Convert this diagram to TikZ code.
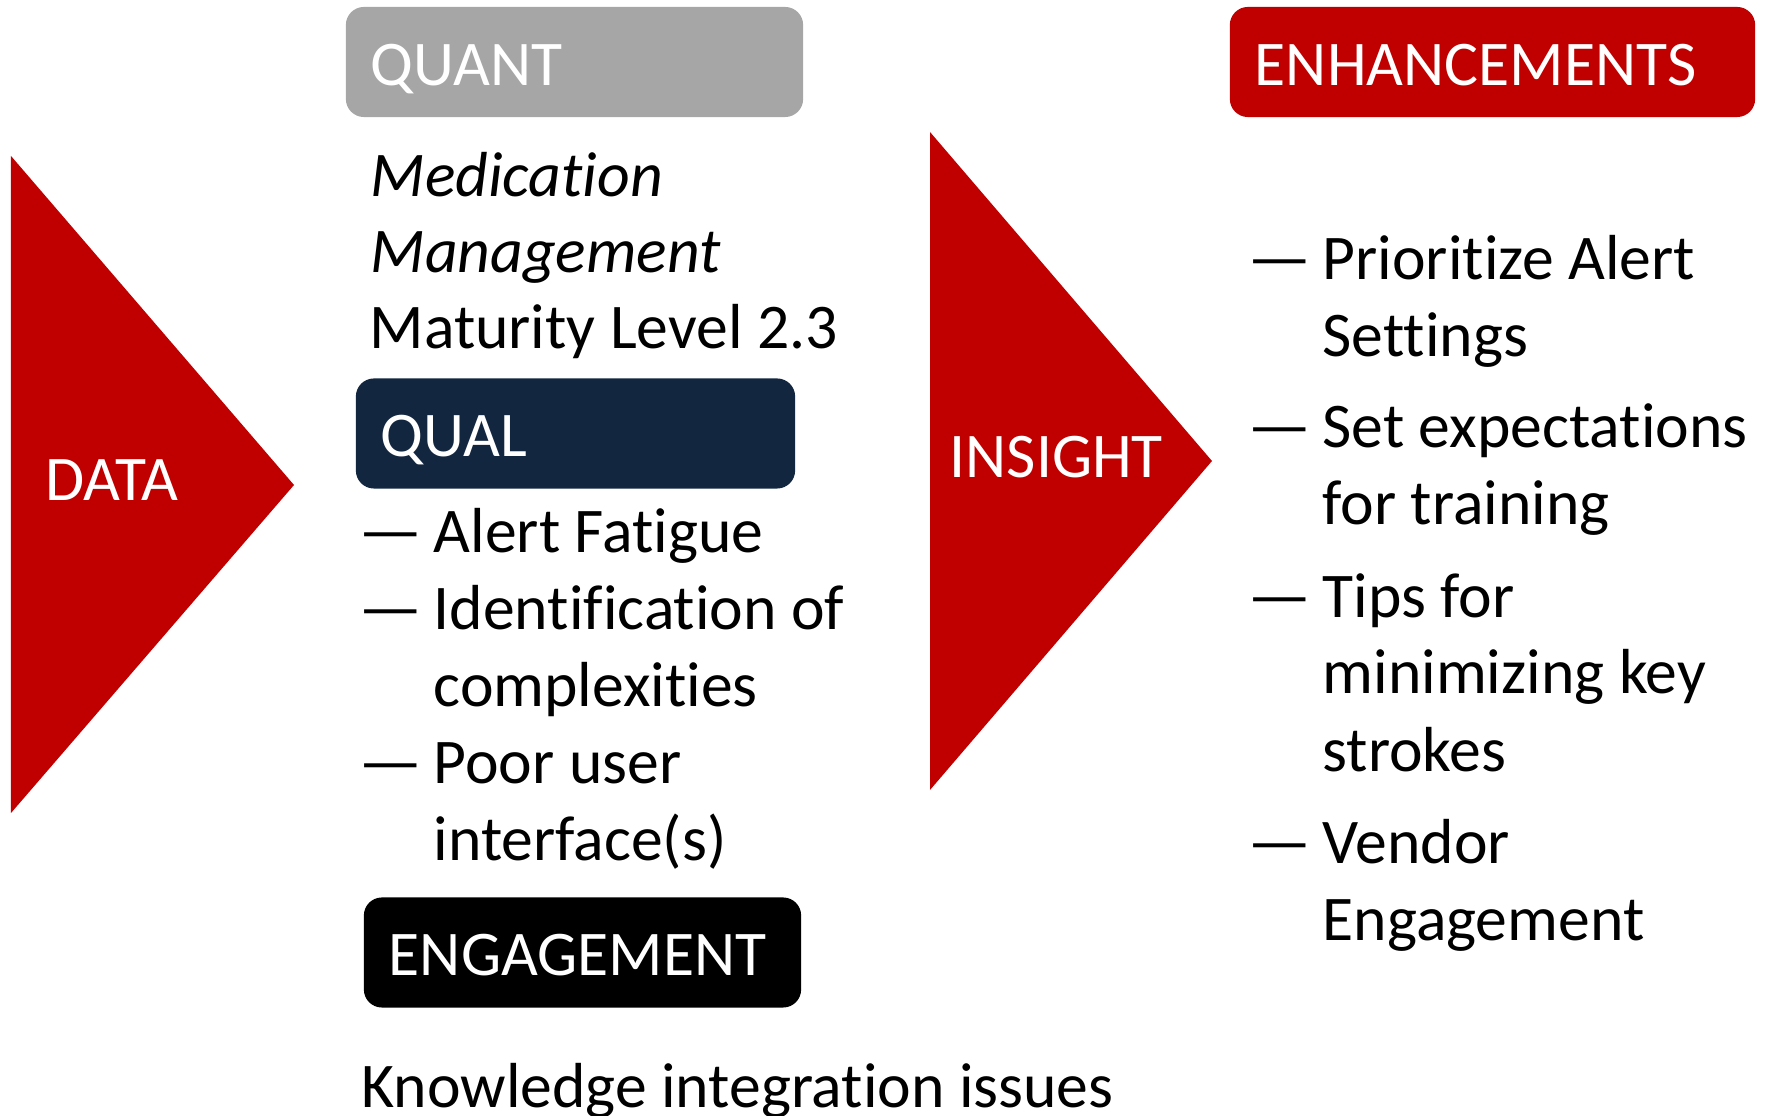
\documentclass[tikz,border=0pt]{standalone}
\usepackage{fontspec}
\setmainfont{Carlito}[RawFeature={-liga;-clig;-calt;-dlig}]
\definecolor{hired}{HTML}{C00000}
\definecolor{quantgray}{HTML}{A6A6A6}
\definecolor{qualnavy}{HTML}{132640}
\newcommand{\bul}{\makebox[0.75cm][l]{\scalebox{1.12}[1]{—}}}

\begin{document}
\begin{tikzpicture}[x=0.01cm,y=-0.01cm,
  every node/.style={font=\fontsize{18.1}{22}\selectfont},
  line/.style={anchor=base west, inner sep=0pt},
  tag/.style={rounded corners=0.18cm, text=white, inner xsep=0.25cm,
    text height=0.46cm, text depth=0pt, minimum height=1.1cm, align=left}]
\useasboundingbox (0,0) rectangle (1771,1116);

% the two big arrows
\fill[hired] (11,156) -- (294,485) -- (11,813) -- cycle;
\fill[hired] (930,132) -- (1212,461) -- (930,790) -- cycle;
\node[line, text=white] (data) at (45,501) {DATA};
\node[line, text=white] (insight) at (949,478) {INSIGHT};

% headers
\node[tag, fill=quantgray, text width=4.07cm] (quant) at (574.5,62) {QUANT};
\node[tag, fill=qualnavy, text width=3.89cm] (qual) at (575.5,433.5) {QUAL};
\node[tag, fill=black, text width=3.87cm] (engage) at (582.5,952.5) {ENGAGEMENT};
\node[tag, fill=hired, text width=4.75cm] (enhance) at (1492.5,62) {ENHANCEMENTS};

% quant
\node[line] (med1) at (370,197) {\textit{Medication}};
\node[line] (med2) at (370,273) {\textit{Management}};
\node[line] (med3) at (369,349) {Maturity Level 2.3};

% qual
\node[line] (q1) at (358,553) {\bul Alert Fatigue};
\node[line] (q2) at (358,630) {\bul Identification of};
\node[line] (q2b) at (433,707) {complexities};
\node[line] (q3) at (358,784) {\bul Poor user};
\node[line] (q3b) at (433,861) {interface(s)};

% engagement
\node[line] (know) at (361,1108) {Knowledge integration issues};

% enhancements
\node[line] (e1) at (1247,280) {\bul Prioritize Alert};
\node[line] (e1b) at (1322,357) {Settings};
\node[line] (e2) at (1247,448) {\bul Set expectations};
\node[line] (e2b) at (1322,525) {for training};
\node[line] (e3) at (1247,618) {\bul Tips for};
\node[line] (e3b) at (1322,694) {minimizing key};
\node[line] (e3c) at (1322,772) {strokes};
\node[line] (e4) at (1247,864) {\bul Vendor};
\node[line] (e4b) at (1322,941) {Engagement};

\end{tikzpicture}
\end{document}
